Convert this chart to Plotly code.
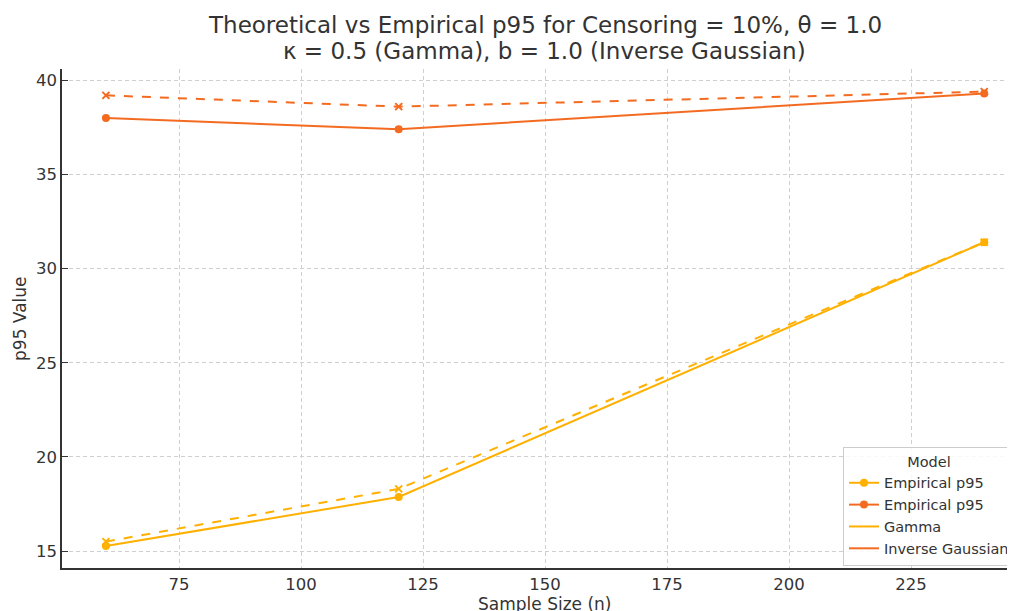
import plotly.graph_objects as go

sample_sizes = [60, 120, 240]
gamma_empirical = [15.27, 17.87, 31.4]
gamma_theoretical = [15.5, 18.3, 31.4]
ig_empirical = [38.0, 37.4, 39.3]
ig_theoretical = [39.2, 38.6, 39.4]

title_line1 = "Theoretical vs Empirical p95 for Censoring = 10%, θ = 1.0"
title_line2 = "κ = 0.5 (Gamma), b = 1.0 (Inverse Gaussian)"
x_title = "Sample Size (n)"
y_title = "p95 Value"

gamma_color = "#FFB000"
ig_color = "#F36B21"
font_family = "DejaVu Sans"
text_color = "#333333"

fig = go.Figure()

fig.add_trace(go.Scatter(x=sample_sizes, y=gamma_theoretical, mode="lines+markers",
                         line=dict(color=gamma_color, width=2, dash="dash"),
                         marker=dict(symbol="x-thin", size=7, line=dict(color=gamma_color, width=2)),
                         showlegend=False))
fig.add_trace(go.Scatter(x=sample_sizes, y=ig_theoretical, mode="lines+markers",
                         line=dict(color=ig_color, width=2, dash="dash"),
                         marker=dict(symbol="x-thin", size=7, line=dict(color=ig_color, width=2)),
                         showlegend=False))
fig.add_trace(go.Scatter(x=sample_sizes, y=gamma_empirical, mode="lines+markers",
                         name="Empirical p95",
                         line=dict(color=gamma_color, width=2),
                         marker=dict(symbol="circle", size=8, color=gamma_color)))
fig.add_trace(go.Scatter(x=sample_sizes, y=ig_empirical, mode="lines+markers",
                         name="Empirical p95",
                         line=dict(color=ig_color, width=2),
                         marker=dict(symbol="circle", size=8, color=ig_color)))
fig.add_trace(go.Scatter(x=[None], y=[None], mode="lines", name="Gamma",
                         line=dict(color=gamma_color, width=2)))
fig.add_trace(go.Scatter(x=[None], y=[None], mode="lines", name="Inverse Gaussian",
                         line=dict(color=ig_color, width=2)))

axis_common = dict(
    showgrid=True, gridcolor="#d0d0d0", griddash="4px,3px", gridwidth=1,
    showline=True, linecolor="#333333", linewidth=1.5, mirror=False,
    tickfont=dict(family=font_family, size=16.5, color=text_color),
    zeroline=False, automargin=False,
)

annotations = [
    dict(text=title_line1, xref="paper", yref="paper", x=0.5068, y=1.0882,
         xanchor="center", yanchor="middle", showarrow=False,
         font=dict(family=font_family, size=23, color=text_color)),
    dict(text=title_line2, xref="paper", yref="paper", x=0.5068, y=1.0361,
         xanchor="center", yanchor="middle", showarrow=False,
         font=dict(family=font_family, size=23, color=text_color)),
    dict(text=x_title, xref="paper", yref="paper", x=0.5068, y=-0.0721,
         xanchor="center", yanchor="middle", showarrow=False,
         font=dict(family=font_family, size=17, color=text_color)),
    dict(text=y_title, xref="paper", yref="paper", x=-0.0441, y=0.501,
         xanchor="center", yanchor="middle", showarrow=False, textangle=-90,
         font=dict(family=font_family, size=17, color=text_color)),
]

fig.update_layout(
    width=1015, height=611,
    paper_bgcolor="white", plot_bgcolor="white",
    margin=dict(l=54, r=8, t=61, b=51),
    font=dict(family=font_family, color=text_color),
    xaxis=dict(axis_common, range=[51, 246.3], tickvals=[75, 100, 125, 150, 175, 200, 225],
               ticks=""),
    yaxis=dict(axis_common, range=[14.1, 40.6], tickvals=[15, 20, 25, 30, 35, 40],
               ticks="inside", ticklen=6, tickcolor="#333333", tickwidth=1.2),
    annotations=annotations,
    legend=dict(x=0.8195, xanchor="left", y=0.2425, yanchor="top",
                bgcolor="rgba(255,255,255,0.85)", bordercolor="#cccccc", borderwidth=1,
                title=dict(text="Model", side="top center", font=dict(family=font_family, size=14.5, color=text_color)),
                font=dict(family=font_family, size=14.5, color=text_color),
                tracegroupgap=0, itemwidth=30),
)

fig.write_html("out.html")
